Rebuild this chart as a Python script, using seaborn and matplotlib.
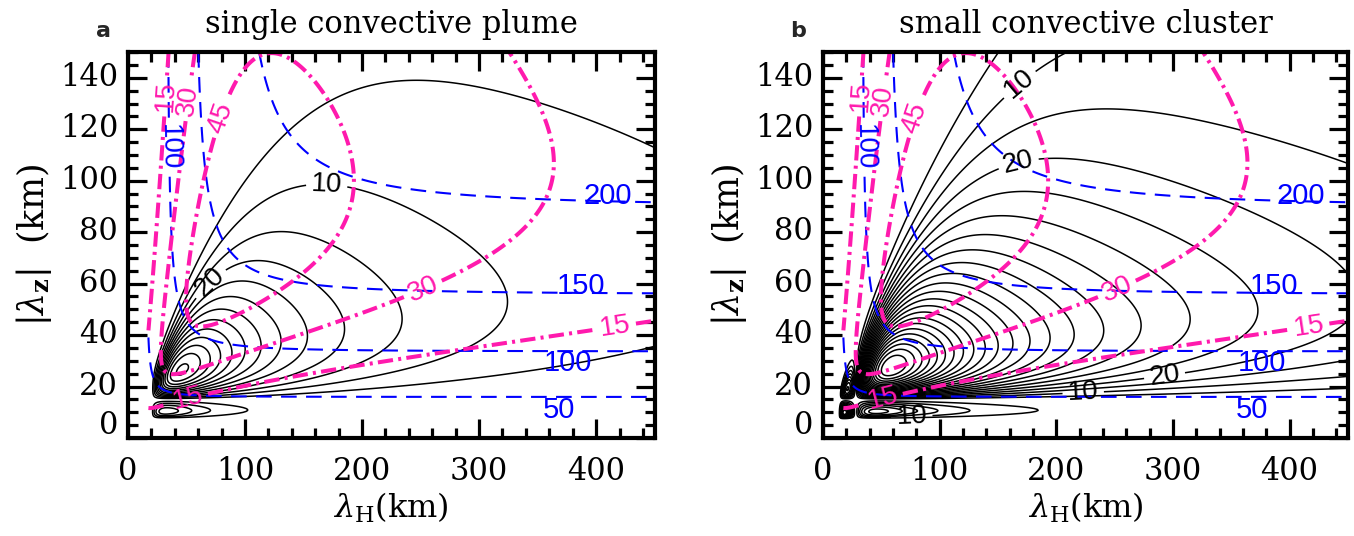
import numpy as np
import matplotlib
matplotlib.use("Agg")
import matplotlib.pyplot as plt
import seaborn as sns
from matplotlib.ticker import MultipleLocator
from matplotlib.transforms import ScaledTranslation

sns.set_theme(style="white")
plt.rcParams["font.family"] = ["DejaVu Serif"]
plt.rcParams["mathtext.fontset"] = "dejavuserif"

# ---------------- data ----------------
titles = ["single convective plume", "small convective cluster"]
letters = ["a", "b"]

# digitised samples of the black (spectral amplitude) contours: lambda_H, |lambda_z| (km), level
a_lambda_h = [199, 253, 326, 370, 433, 452, 398, 327, 199, 207, 141, 110, 87, 68,
              170, 253, 290, 316, 310, 290, 253, 199, 113, 76,
              113, 150, 199, 233, 213,
              93, 153, 188, 180, 153, 76,
              158, 136, 119, 105, 92, 79, 69,
              53,
              300]
a_lambda_z = [131, 138, 137, 130, 120, 39, 30, 24.5, 18.7, 134, 118.5, 104, 92.5, 77,
              100, 95, 85, 61, 45, 38, 30, 22.5, 90, 77,
              80, 80, 76, 55, 38,
              63, 64, 47, 38, 31.5, 57.5,
              42, 38, 35, 33, 31, 29, 27,
              25,
              150]
a_level = ([5] * 14 + [10] * 10 + [15] * 5 + [20] * 6 +
           [25, 30, 35, 40, 45, 50, 55] + [62] + [4])

b_lambda_h = [150, 116, 87, 64,
              173, 203, 248, 366, 449, 128, 102, 76, 449, 246,
              207, 252, 326, 415, 449, 153, 116, 87, 449, 351,
              167, 203, 252, 326, 291, 351, 423, 449,
              387, 374, 357, 377,
              319, 282, 250, 225, 203, 186, 171, 160,
              70]
b_lambda_z = [150, 129, 109, 77,
              135, 144, 150, 150, 143, 116, 100, 77, 21.8, 18.7,
              127, 129, 125.5, 108, 95, 116, 99, 77, 29, 25,
              108, 112, 112, 100, 29, 38, 46, 53.6,
              60, 80, 92.5, 49,
              55, 52, 49.5, 47, 45, 43.5, 42, 41,
              29]
b_level = ([5] * 4 + [10] * 10 + [15] * 10 + [20] * 8 + [25] * 4 +
           [30, 35, 40, 45, 50, 55, 60, 65] + [120])

# first zeros of the source projections (km), side-lobe weights, steep-ray cutoff
a_zero_h, a_zero_z, a_lobe_h, a_lobe_z = 20.0, 15.0, 0.1, 0.45
b_zero_h, b_zero_z, b_lobe_h, b_lobe_z = 28.0, 15.0, 1.0, 0.35
steep_ratio = 1.0     # lambda_z / lambda_H where the high-frequency cutoff acts
steep_power = 4.0
peak_weight = 3.0
poly_degree = 2

black_levels_a = list(range(5, 70, 5))
black_levels_b = list(range(5, 200, 5))
phase_speed_levels = [50, 100, 150, 200]       # m/s (blue dashed)
group_speed_levels = [15, 30, 45]              # m/s (magenta dash-dot)
N_bv = 0.02          # buoyancy frequency (1/s)
H_scale = 7000.0     # density scale height (m)
aspect_exp = 0.17
lambda_h_min = 17.0  # smallest horizontal wavelength of the computed grid (km)

# label anchor positions (layout)
a_black_labels = {10: [(170, 100)], 20: [(76, 57.5)]}
b_black_labels = {10: [(173, 135), (223, 18.7), (76, 10)], 20: [(167, 108), (291, 30)]}
mag_labels = {15: [(30, 133), (416, 45), (50, 17.5)], 30: [(53, 131), (250, 60)], 45: [(81, 124)]}
blue_labels = {100: [(38, 113)]}
blue_text = [(200, 410, 94), (150, 387, 59), (100, 376, 29), (50, 368, 11)]

# ---------------- fields ----------------
lh = np.linspace(1, 450, 600)
lz = np.linspace(1, 150, 400)
LH, LZ = np.meshgrid(lh, lz)
k = 2 * np.pi / (LH * 1e3)
m = 2 * np.pi / (LZ * 1e3)
a2 = 1.0 / (4 * H_scale ** 2)
Ksq = k ** 2 + m ** 2 + a2
phase_speed = N_bv / np.sqrt(Ksq)
group_speed = N_bv * k * m / Ksq ** 1.5 * (LH / LZ) ** aspect_exp
phase_speed[LH < lambda_h_min] = np.nan
group_speed[LH < lambda_h_min] = np.nan


def basis(X, Y, deg):
    X = X - 5.0
    Y = Y - 4.0
    cols = []
    for d in range(deg + 1):
        for i in range(d + 1):
            cols.append(X ** (d - i) * Y ** i)
    return cols


def known_factor(h, z, z0h, z0z):
    sx = np.abs(np.sinc(z0h / h))
    sz = np.abs(np.sinc(z0z / z))
    steep = np.exp(-np.minimum(((z / h) / steep_ratio) ** steep_power, 40.0))
    return sx * sz * steep


def black_field(pts_h, pts_z, lev, z0h, z0z, wh, wz):
    ph = np.asarray(pts_h, float)
    pz = np.asarray(pts_z, float)
    lv = np.asarray(lev, float)
    rhs = np.log(lv) - np.log(known_factor(ph, pz, z0h, z0z))
    M = np.column_stack(basis(np.log(ph), np.log(pz), poly_degree))
    w = np.where(lv == lv.max(), peak_weight, 1.0)
    c = np.linalg.lstsq(M * w[:, None], rhs * w, rcond=None)[0]
    G = basis(np.log(LH), np.log(LZ), poly_degree)
    P = sum(ci * gi for ci, gi in zip(c, G))
    kf = known_factor(LH, LZ, z0h, z0z)
    kf = kf * np.where(LH < z0h, wh, 1.0) * np.where(LZ < z0z, wz, 1.0)
    F = np.exp(np.minimum(P, 9)) * kf
    F[(LH < z0h / 2) | (LZ < z0z / 2)] = 0
    return F


F_a = black_field(a_lambda_h, a_lambda_z, a_level, a_zero_h, a_zero_z, a_lobe_h, a_lobe_z)
F_b = black_field(b_lambda_h, b_lambda_z, b_level, b_zero_h, b_zero_z, b_lobe_h, b_lobe_z)

# ---------------- figure ----------------
fig = plt.figure(figsize=(13.54, 5.36), dpi=100)
ax_a = fig.add_axes([0.0945, 0.1828, 0.389, 0.7201])
ax_b = fig.add_axes([0.6078, 0.1828, 0.3877, 0.7201])

MAG = "#ff1aad"
LABEL_FONT = "Liberation Sans"


def contour_labeled(ax, Z, levels, labels, color, fsize, **kw):
    zmin, zmax = np.nanmin(Z), np.nanmax(Z)
    rest = [l for l in levels if l not in labels and zmin < l < zmax]
    if rest:
        ax.contour(LH, LZ, Z, levels=rest, colors=color, **kw)
    for lev, pos in labels.items():
        if not (zmin < lev < zmax):
            continue
        cs = ax.contour(LH, LZ, Z, levels=[lev], colors=color, **kw)
        txt = ax.clabel(cs, manual=pos, inline=True, fmt="%d", fontsize=fsize, inline_spacing=3)
        for t in txt:
            t.set_family(LABEL_FONT)


def draw(ax, F, levels, black_labels, title, letter, left_px):
    ax.set_facecolor("white")
    contour_labeled(ax, F, levels, black_labels, "black", 20, linewidths=1.1)
    contour_labeled(ax, phase_speed, phase_speed_levels, blue_labels, "blue", 20,
                    linewidths=1.5, linestyles=[(0, (7.5, 4.5))])
    for val, x, y in blue_text:
        ax.text(x, y, f"{val}", color="blue", fontsize=21, ha="center", va="center", family=LABEL_FONT)
    contour_labeled(ax, group_speed, group_speed_levels, mag_labels, MAG, 20,
                    linewidths=2.9, linestyles=[(0, (3.8, 1.3, 0.75, 1.3))])

    ax.set_xlim(0, 450)
    ax.set_ylim(0, 150)
    ax.xaxis.set_major_locator(MultipleLocator(100))
    ax.xaxis.set_minor_locator(MultipleLocator(20))
    ax.yaxis.set_major_locator(MultipleLocator(20))
    ax.yaxis.set_minor_locator(MultipleLocator(5))
    ax.tick_params(which="both", direction="in", top=True, right=True, bottom=True, left=True,
                   colors="black", labelsize=22)
    ax.tick_params(which="major", length=14, width=2.3)
    ax.tick_params(axis="x", which="major", pad=13)
    ax.tick_params(axis="y", which="major", pad=7)
    ax.tick_params(which="minor", length=7, width=2.3)
    for s in ax.spines.values():
        s.set_visible(True)
        s.set_color("black")
        s.set_linewidth(3)
    ax.set_xlabel(r"$\lambda_{\rm H}$(km)", fontsize=23, labelpad=3, color="black")
    ax.set_ylabel(r"$|\lambda_{\bf z}|$  (km)", fontsize=25, labelpad=4, color="black")
    ax.grid(False)
    ax.set_title(title, fontsize=22, pad=14, color="black")
    fig.text((left_px - 25) / 1354, 1 - 31 / 536, letter, fontsize=16, fontweight="bold",
             family="DejaVu Sans", ha="center", va="center")


draw(ax_a, F_a, black_levels_a, a_black_labels, titles[0], letters[0], 128)
draw(ax_b, F_b, black_levels_b, b_black_labels, titles[1], letters[1], 823)

fig.canvas.draw()
for ax in (ax_a, ax_b):
    for tk in ax.yaxis.get_major_ticks():
        off = 16 if abs(tk.get_loc()) < 1e-9 else 4
        tk.label1.set_transform(tk.label1.get_transform() + ScaledTranslation(0, off / 100, fig.dpi_scale_trans))

fig.savefig("out.png", dpi=100, facecolor="white")
